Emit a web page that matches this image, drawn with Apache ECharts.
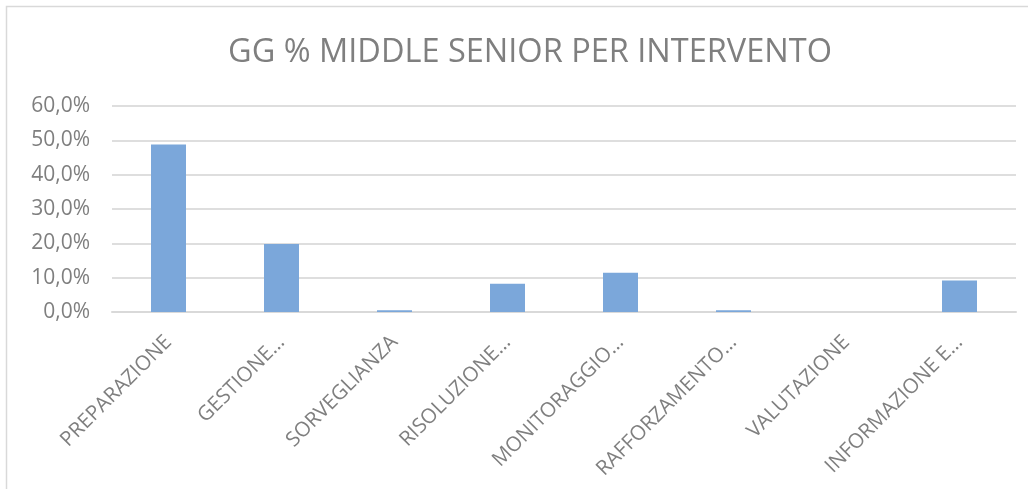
<!DOCTYPE html>
<html><head><meta charset="utf-8">
<script src="https://cdn.jsdelivr.net/npm/echarts@6/dist/echarts.min.js"></script>
<style>html,body{margin:0;padding:0;background:#fff}#c{width:1028px;height:489px}</style>
</head><body><div id="c"></div>
<script>
const categories = ["PREPARAZIONE","GESTIONE…","SORVEGLIANZA","RISOLUZIONE…","MONITORAGGIO…","RAFFORZAMENTO…","VALUTAZIONE","INFORMAZIONE E…"];
const values = [48.8, 19.8, 0.5, 8.2, 11.4, 0.5, 0, 9.2];
const yTicks = {min: 0, max: 60, interval: 10};
const title = "GG % MIDDLE SENIOR PER INTERVENTO";
const FONT = "Open Sans";
const chart = echarts.init(document.getElementById('c'), null, {renderer:'canvas'});
chart.setOption({
  animation:false,
  title:{text:title,left:223,top:31,textStyle:{fontFamily:FONT,fontWeight:'normal',fontSize:32.5,color:'#7f7f7f'}},
  graphic:[{type:'rect',shape:{x:6.5,y:6.5,width:1040,height:500},style:{fill:'none',stroke:'#d9d9d9',lineWidth:1.5},silent:true}],
  grid:{left:112,right:12,top:106,bottom:177},
  xAxis:{type:'category',data:categories,
    axisLine:{lineStyle:{color:'#d9d9d9',width:2}},axisTick:{show:false},
    axisLabel:{rotate:45,interval:0,margin:27,fontFamily:FONT,fontSize:20.5,color:'#7f7f7f'}},
  yAxis:{type:'value',min:yTicks.min,max:yTicks.max,interval:yTicks.interval,
    axisLine:{show:false},axisTick:{show:false},
    splitLine:{lineStyle:{color:'#dedede',width:2}},
    axisLabel:{margin:22,fontFamily:FONT,fontSize:21,color:'#7f7f7f',formatter:v=>v.toFixed(1).replace('.',',')+'%'}},
  series:[{type:'bar',data:values,barWidth:35,itemStyle:{color:'#7ba7da'}}]
});
</script></body></html>
